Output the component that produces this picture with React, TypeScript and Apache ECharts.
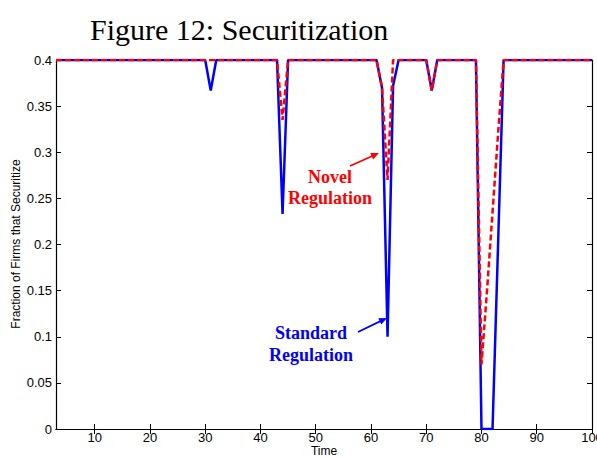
import React, { useEffect, useRef } from "react";
import * as echarts from "echarts";

const stdTime = [3, 30, 31, 32, 43, 44, 45, 61, 62, 63, 64, 65, 70, 71, 72, 79, 80, 81, 82, 83, 84, 100];
const stdValue = [0.4, 0.4, 0.367, 0.4, 0.4, 0.233, 0.4, 0.4, 0.37, 0.1, 0.372, 0.4, 0.4, 0.367, 0.4, 0.4, 0, 0, 0, 0.2, 0.4, 0.4];

const novTime = [3, 43, 44, 45, 61, 62, 63, 64, 70, 71, 72, 79, 80, 81, 82, 83, 84, 100];
const novValue = [0.4, 0.4, 0.335, 0.4, 0.4, 0.37, 0.27, 0.4, 0.4, 0.367, 0.4, 0.4, 0.07, 0.15, 0.235, 0.32, 0.4, 0.4];

const xTicks = [10, 20, 30, 40, 50, 60, 70, 80, 90, 100];

const SANS = "'Liberation Sans', Arial, sans-serif";
const SERIF = "'Liberation Serif', 'Times New Roman', serif";

export default function App() {
  const ref = useRef<HTMLDivElement>(null);
  useEffect(() => {
    document.body.style.margin = "0";
    const chart = echarts.init(ref.current!, null, { renderer: "svg" });
    const pairs = (t: number[], v: number[]) => t.map((x, i) => [x, v[i]]);
    const axisCommon = {
      type: "value" as const,
      axisLine: { show: true, lineStyle: { color: "#000", width: 1.2 } },
      axisTick: { show: true, inside: true, length: 5, lineStyle: { color: "#000" } },
      splitLine: { show: false },
    };
    chart.setOption({
      animation: false,
      backgroundColor: "#fff",
      grid: { left: 56, right: 5, top: 60, bottom: 28, containLabel: false, outerBoundsMode: "none" },
      xAxis: [
        {
          ...axisCommon,
          min: 3,
          max: 100,
          position: "bottom",
          axisTick: { ...axisCommon.axisTick, customValues: xTicks },
          axisLabel: { customValues: xTicks, color: "#000", fontSize: 13, fontFamily: SANS, margin: 2 },
        },
        {
          ...axisCommon,
          min: 3,
          max: 100,
          position: "top",
          axisTick: { ...axisCommon.axisTick, customValues: xTicks },
          axisLabel: { show: false },
        },
      ],
      yAxis: [
        {
          ...axisCommon,
          min: 0,
          max: 0.4,
          interval: 0.05,
          position: "left",
          axisLabel: { color: "#000", fontSize: 13, fontFamily: SANS, margin: 4 },
        },
        {
          ...axisCommon,
          min: 0,
          max: 0.4,
          interval: 0.05,
          position: "right",
          axisLabel: { show: false },
        },
      ],
      series: [
        {
          name: "Standard Regulation",
          type: "line",
          data: pairs(stdTime, stdValue),
          showSymbol: false,
          symbol: "none",
          lineStyle: { color: "#0000ff", width: 2.5 },
          z: 2,
        },
        {
          name: "Novel Regulation",
          type: "line",
          data: pairs(novTime, novValue),
          showSymbol: false,
          symbol: "none",
          lineStyle: { color: "#ff0000", width: 2.5, type: [6, 3] },
          z: 3,
        },
      ],
      graphic: [
        {
          type: "text",
          left: 90,
          top: 14,
          style: { text: "Figure 12: Securitization", fontSize: 30, fontFamily: SERIF, fill: "#000" },
        },
        {
          type: "text",
          x: 324,
          y: 451,
          style: { text: "Time", fontSize: 12, fontFamily: SANS, fill: "#000", align: "center", verticalAlign: "middle" },
        },
        {
          type: "text",
          x: 16,
          y: 244,
          rotation: Math.PI / 2,
          style: { text: "Fraction of Firms that Securitize", fontSize: 12, fontFamily: SANS, fill: "#000", align: "center", verticalAlign: "middle" },
        },
        {
          type: "text",
          x: 330,
          y: 177,
          style: { text: "Novel", fontSize: 18, fontWeight: "bold", fontFamily: SERIF, fill: "#ff0000", align: "center", verticalAlign: "middle" },
        },
        {
          type: "text",
          x: 330,
          y: 198,
          style: { text: "Regulation", fontSize: 18, fontWeight: "bold", fontFamily: SERIF, fill: "#ff0000", align: "center", verticalAlign: "middle" },
        },
        { type: "line", shape: { x1: 350, y1: 166, x2: 374, y2: 155.3 }, style: { stroke: "#ff0000", lineWidth: 1.8 } },
        { type: "polygon", shape: { points: [[379, 153], [373.1, 159.5], [370.3, 153.1]] }, style: { fill: "#ff0000" } },
        {
          type: "text",
          x: 311,
          y: 333,
          style: { text: "Standard", fontSize: 18, fontWeight: "bold", fontFamily: SERIF, fill: "#0000ff", align: "center", verticalAlign: "middle" },
        },
        {
          type: "text",
          x: 311,
          y: 355,
          style: { text: "Regulation", fontSize: 18, fontWeight: "bold", fontFamily: SERIF, fill: "#0000ff", align: "center", verticalAlign: "middle" },
        },
        { type: "line", shape: { x1: 358, y1: 332, x2: 382, y2: 320.4 }, style: { stroke: "#0000ff", lineWidth: 1.8 } },
        { type: "polygon", shape: { points: [[387, 318], [381.3, 324.6], [378.3, 318.3]] }, style: { fill: "#0000ff" } },
      ],
    });
    return () => chart.dispose();
  }, []);
  return <div ref={ref} style={{ width: 597, height: 457 }} />;
}
